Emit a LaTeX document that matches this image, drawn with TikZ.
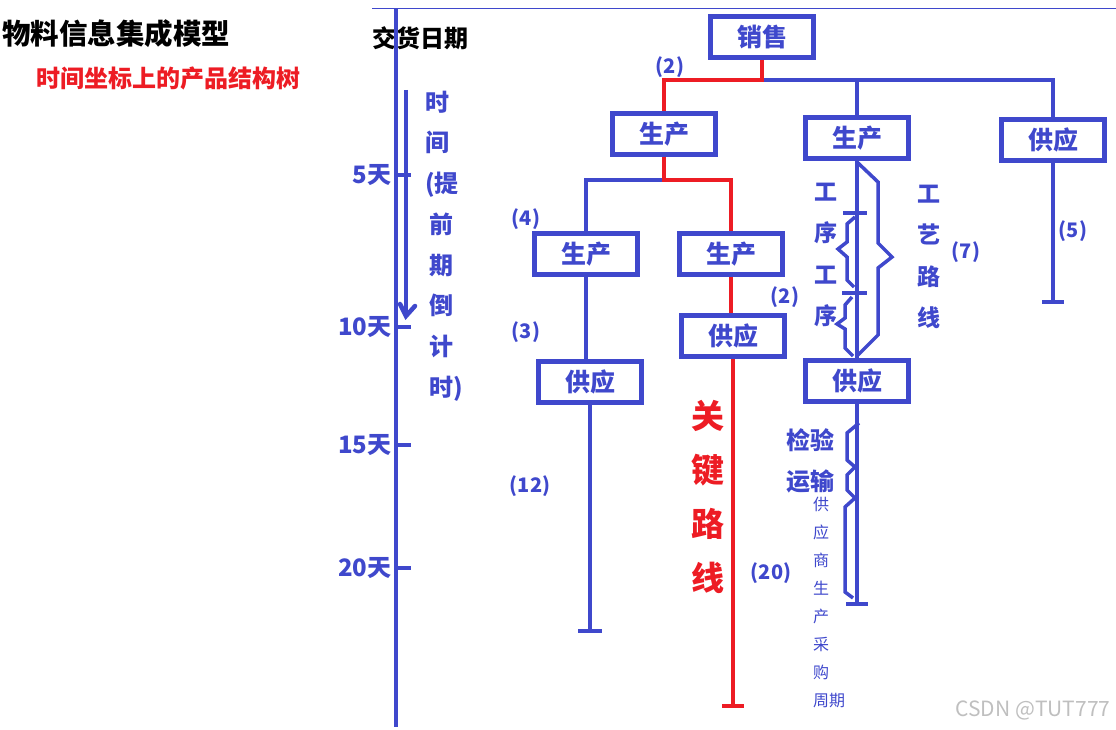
\documentclass[tikz,border=0pt]{standalone}
\usepackage{fontspec}
\setmainfont{Noto Sans CJK SC}
\usetikzlibrary{positioning}

\definecolor{paintblue}{RGB}{63,72,204}
\definecolor{paintred}{RGB}{237,28,36}
\newcommand{\fsz}[2]{\fontsize{#1}{#2}\selectfont}

\begin{document}
\begin{tikzpicture}[x=1pt, y=-1pt,
    box/.style={draw=paintblue, line width=4.5pt, minimum width=103pt, minimum height=41pt,
                inner sep=0pt, text=paintblue, font=\bfseries\fsz{25}{25}},
    bl/.style={paintblue, line width=4.5pt},
    rl/.style={paintred, line width=4.5pt},
    num/.style={text=paintblue, font=\bfseries\fsz{20}{20}},
    vtext/.style={text=paintblue, align=center, inner sep=0pt}]
    \useasboundingbox (0,0) rectangle (1116,730);

    % titles
    \node (title) at (116,34) {\bfseries\fsz{28.5}{28.5}物料信息集成模型};
    \node[text=paintred] (subtitle) at (168,78) {\bfseries\fsz{24}{24}时间坐标上的产品结构树};
    \node (due) at (420,38) {\bfseries\fsz{24}{24}交货日期};

    % time axis
    \draw[paintblue, line width=1pt] (372,9) -- (1116,9);
    \draw[bl] (396,9) -- (396,727);
    \foreach \y/\dd in {175/5, 327/10, 445/15, 568/20} {
        \draw[bl] (396,\y) -- (411,\y);
        \node[num, font=\bfseries\fsz{24}{24}, anchor=east] (day\dd) at (395,\y) {\dd 天};
    }
    \draw[bl] (406,90) -- (406,317);
    \draw[bl, line cap=round] (400,304) -- (406,316) -- (415,306);
    \node[vtext, align=left, font=\bfseries\fsz{24}{40.7}] (countdown) at (444,246)
        {时\\间\\(提\\\,前\\\,期\\\,倒\\\,计\\\,时)};

    % the tree
    \node[box] (xs)  at (762,37)  {销售};
    \node[box] (sc1) at (664,134) {生产};
    \node[box] (sc2) at (857,138) {生产};
    \node[box] (gy1) at (1053,140) {供应};
    \node[box] (sc3) at (586,254) {生产};
    \node[box] (sc4) at (731,254) {生产};
    \node[box] (gy2) at (733,336) {供应};
    \node[box] (gy3) at (590,382) {供应};
    \node[box] (gy4) at (857,381) {供应};

    \draw[bl] (xs.south |- 0,80) -| (gy1.north);
    \draw[bl] (sc2.north |- 0,80) -- (sc2.north);
    \draw[rl] (xs.south) -- (xs.south |- 0,80) -| (sc1.north);

    \draw[bl] (sc1.south |- 0,180) -| (sc3.north);
    \draw[rl] (sc1.south) -- (sc1.south |- 0,180) -| (sc4.north);
    \draw[rl] (sc4.south) -- (sc4.south |- gy2.north);
    \draw[bl] (sc3.south) -- (sc3.south |- gy3.north);
    \draw[bl] (sc2.south) -- (sc2.south |- gy4.north);

    % lead time lines
    \draw[bl] (gy1.south) -- (gy1.south |- 0,302) coordinate (e1);
    \draw[bl] ([xshift=-11pt]e1) -- ([xshift=11pt]e1);
    \draw[bl] (gy3.south) -- (gy3.south |- 0,631) coordinate (e3);
    \draw[bl] ([xshift=-12pt]e3) -- ([xshift=12pt]e3);
    \draw[bl] (gy4.south) -- (gy4.south |- 0,604) coordinate (e4);
    \draw[bl] ([xshift=-11pt]e4) -- ([xshift=11pt]e4);
    \draw[rl] (gy2.south) -- (gy2.south |- 0,706) coordinate (eR);
    \draw[rl] ([xshift=-11pt]eR) -- ([xshift=11pt]eR);

    % routing brackets
    \draw[bl, line width=3.5pt] (858,163) -- (878,182) -- (878,243) -- (892,257) -- (878,268) -- (878,335) -- (858,355);
    \draw[bl, line width=3.5pt] (843,213) -- (867,213);
    \draw[bl, line width=3.5pt] (855,217) -- (847,224) -- (847,242) -- (838,249) -- (847,257) -- (847,280) -- (854,287);
    \draw[bl, line width=3.5pt] (842,293) -- (867,293);
    \draw[bl, line width=3.5pt] (852,297) -- (845,305) -- (845,318) -- (837,324) -- (845,329) -- (845,348) -- (853,356);
    \draw[bl, line width=3.5pt] (859,423) -- (847,433) -- (847,460) -- (855,467) -- (847,475) -- (847,490) -- (855,498) -- (845,507) -- (845,592) -- (853,598);

    % labels
    \node[num] (n1) at (670,67)  {(2)};
    \node[num] (n2) at (526,219) {(4)};
    \node[num] (n3) at (526,332) {(3)};
    \node[num] (n4) at (530,486) {(12)};
    \node[num] (n5) at (785,297) {(2)};
    \node[num] (n6) at (771,573) {(20)};
    \node[num] (n7) at (966,252) {(7)};
    \node[num] (n8) at (1073,231) {(5)};

    \node[vtext, font=\bfseries\fsz{23}{41.3}] (gx) at (826,255) {工\\序\\工\\序};
    \node[vtext, font=\bfseries\fsz{23}{41.3}] (gylx) at (929,257) {工\\艺\\路\\线};
    \node[vtext, text=paintred, font=\bfseries\fsz{33}{54}] (gjlx) at (708,497) {关\\键\\路\\线};
    \node[vtext, font=\bfseries\fsz{24}{41}] (jy) at (810,461) {检验\\运输};
    \node[vtext, align=left, anchor=west, font=\fsz{16}{28}] (cycle) at (813,602)
        {供\\应\\商\\生\\产\\采\\购\\周期};

    \node[text=black!25, font=\fsz{21}{21}] (mark) at (1033,710) {CSDN @TUT777};
\end{tikzpicture}
\end{document}
